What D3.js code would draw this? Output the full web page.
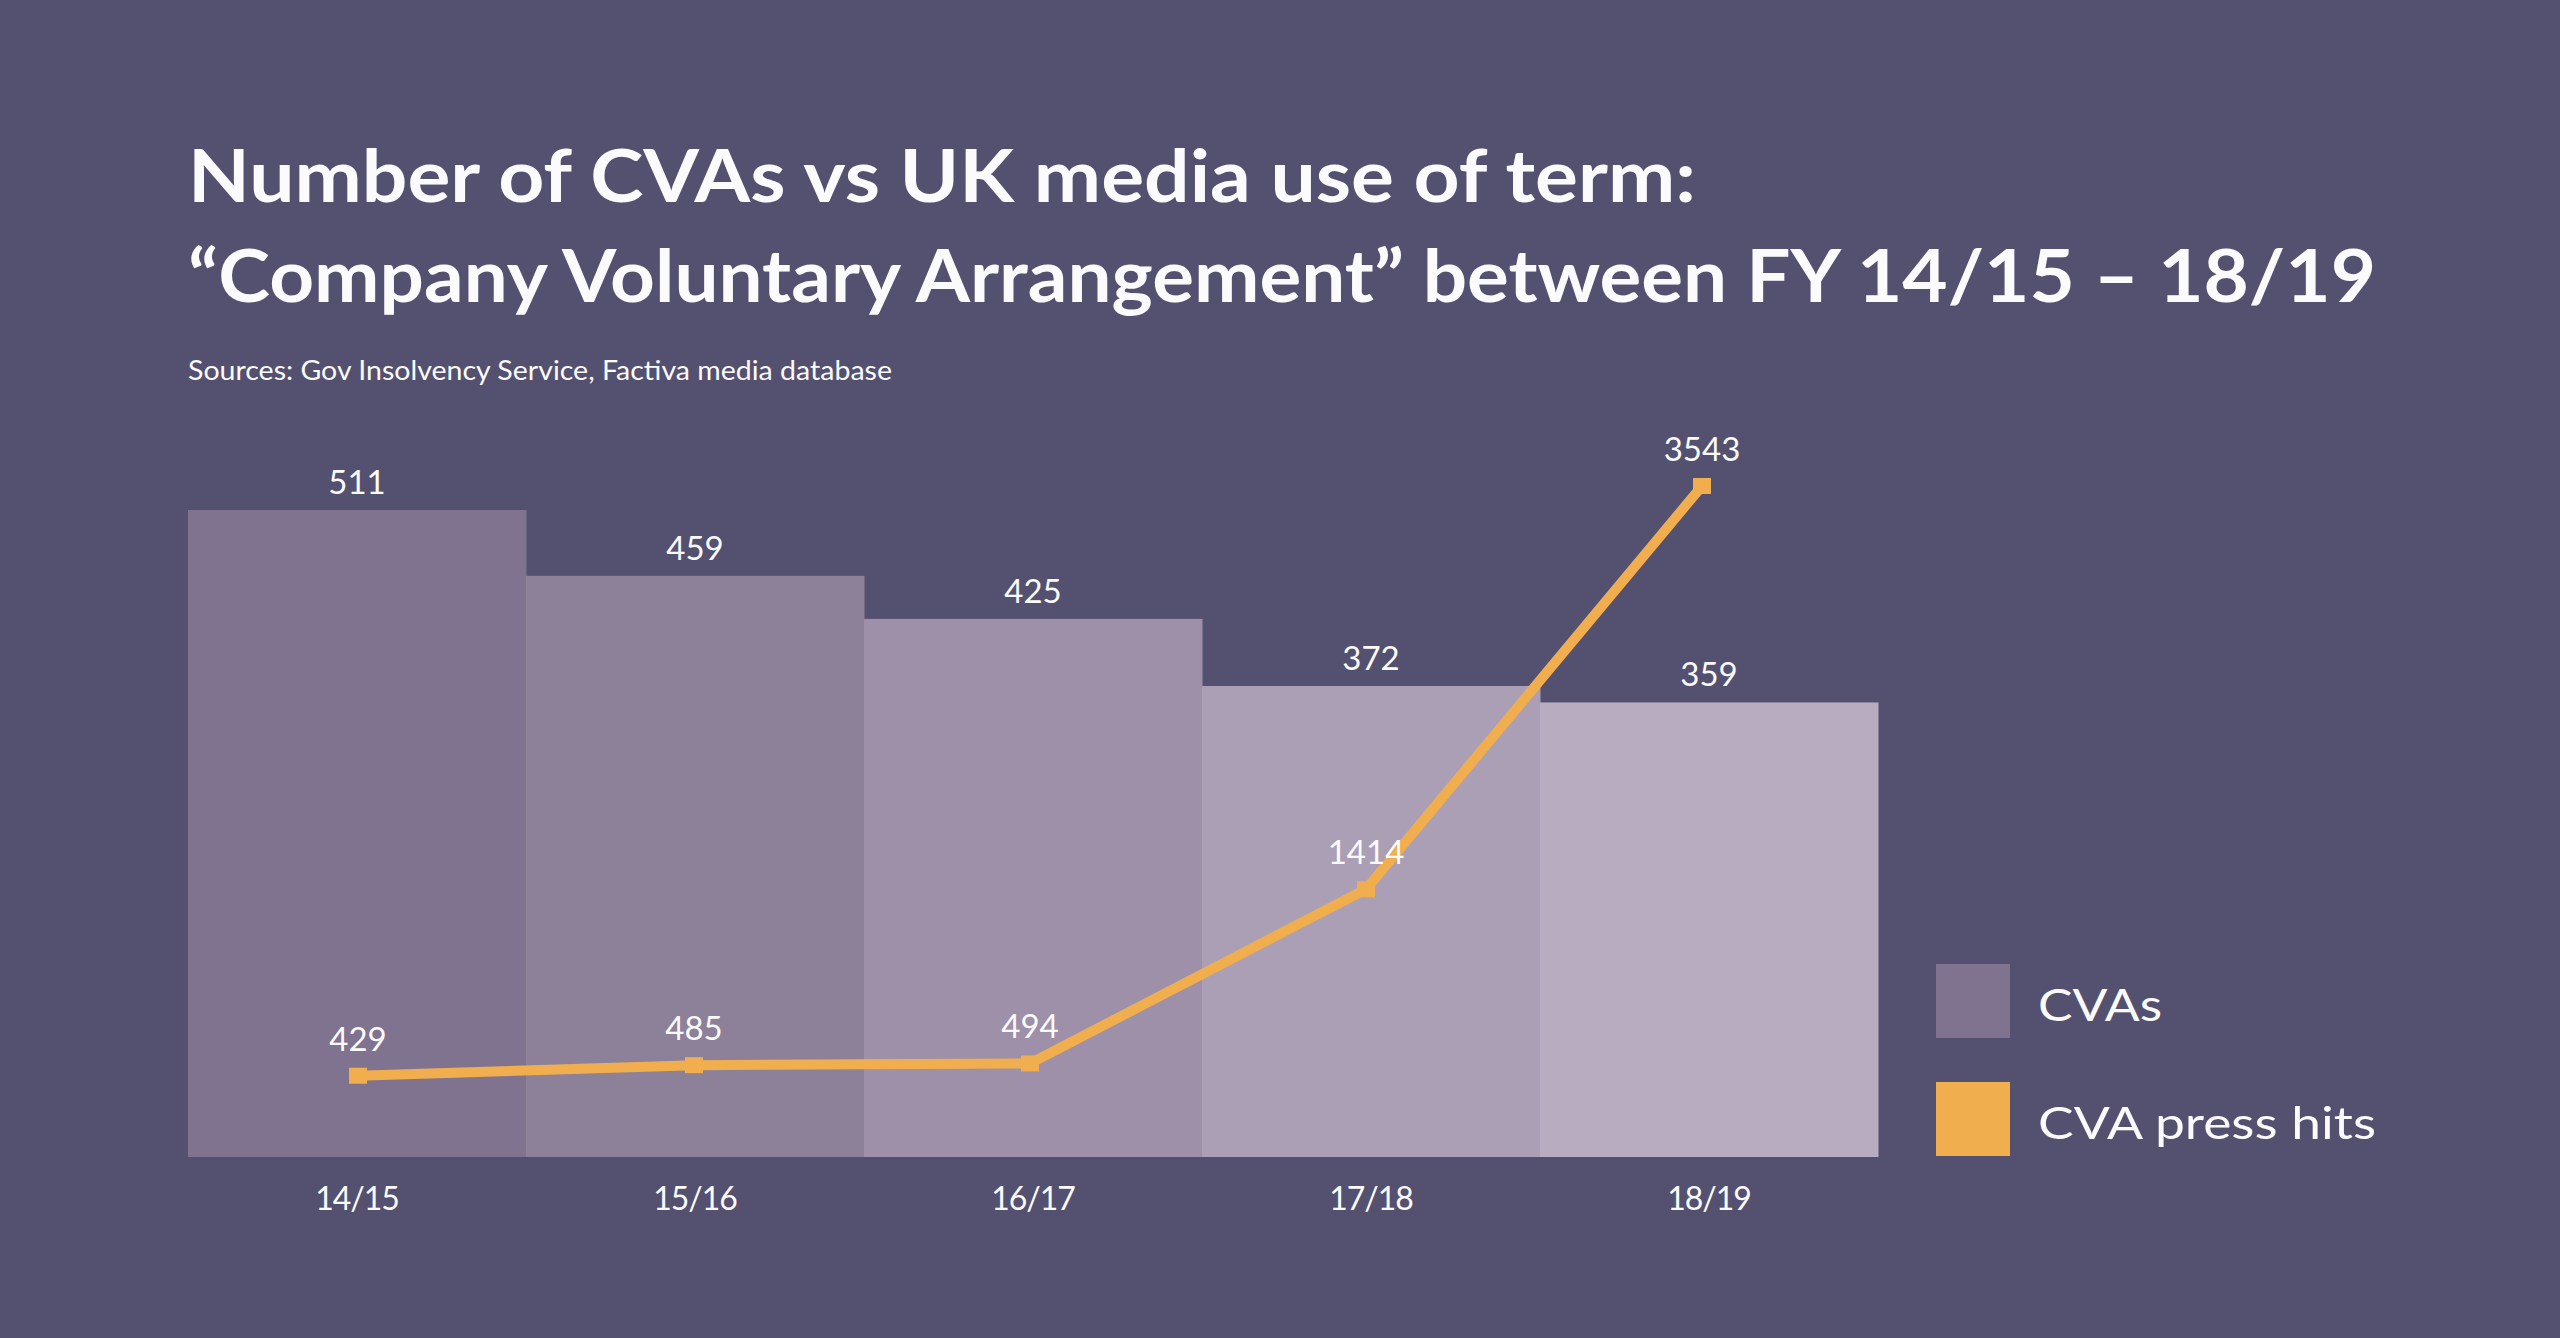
<!DOCTYPE html>
<html>
<head>
<meta charset="utf-8">
<script src="https://cdn.jsdelivr.net/npm/d3@7"></script>
<style>
  html, body { margin: 0; padding: 0; background: #54506f; }
  svg { display: block; }
  text { font-family: Lato, "Open Sans", sans-serif; fill: #fbfbfd; }
</style>
</head>
<body>
<svg id="chart" width="2560" height="1338"></svg>
<script>
// data
const years = ['14/15', '15/16', '16/17', '17/18', '18/19'];
const cvas = [511, 459, 425, 372, 359];
const pressHits = [429, 485, 494, 1414, 3543];
const barColors = ['#807390', '#8d8199', '#9d90a8', '#ab9fb6', '#b8acc0'];
const legendLabels = ['CVAs', 'CVA press hits'];
const titleLines = [
  'Number of CVAs vs UK media use of term:',
  '\u201cCompany Voluntary Arrangement\u201d between FY 14/15 \u2013 18/19'
];
const sourceText = 'Sources: Gov Insolvency Service, Factiva media database';

// widths the original font takes up (Lato is narrower, so stretch to fit)
const titleWidths = [1508, 2188];
const legendWidths = [124, 338];

const svg = d3.select('#chart');
const orange = '#f0ae4e';

const left = 188;
const right = 1878;
const bottom = 1157;

svg.append('rect')
  .attr('width', 2560)
  .attr('height', 1338)
  .attr('fill', '#54506f');

// title + source
svg.selectAll('.title')
  .data(titleLines)
  .enter()
  .append('text')
  .attr('class', 'title')
  .attr('x', left)
  .attr('y', (d, i) => 202 + i * 100)
  .attr('textLength', (d, i) => titleWidths[i])
  .attr('lengthAdjust', 'spacingAndGlyphs')
  .style('font-size', '73px')
  .style('font-weight', 700)
  .text(d => d);

svg.append('text')
  .attr('x', left)
  .attr('y', 380)
  .attr('textLength', 704)
  .attr('lengthAdjust', 'spacingAndGlyphs')
  .style('font-size', '26px')
  .text(sourceText);

const x = d3.scaleBand()
  .domain(years)
  .range([left, right])
  .padding(0);

const y = d3.scaleLinear()
  .domain([0, 511])
  .range([bottom, 510]);

// line points sit a touch left of the bar centres in the original
const xLine = d3.scalePoint()
  .domain(years)
  .range([358, 1702]);

const yLine = d3.scaleLinear()
  .domain([0, 3543])
  .range([bottom, 486]);

const chart = svg.append('g');

chart.selectAll('.bar')
  .data(cvas)
  .enter()
  .append('rect')
  .attr('class', 'bar')
  .attr('x', (d, i) => x(years[i]))
  .attr('y', d => y(d))
  .attr('width', x.bandwidth() + 0.5)
  .attr('height', d => bottom - y(d))
  .attr('fill', (d, i) => barColors[i]);

chart.selectAll('.barLabel')
  .data(cvas)
  .enter()
  .append('text')
  .attr('class', 'barLabel')
  .attr('x', (d, i) => x(years[i]) + x.bandwidth() / 2)
  .attr('y', d => y(d) - 16)
  .attr('text-anchor', 'middle')
  .style('font-size', '33px')
  .text(d => d);

// x axis, labels only
const xAxis = chart.append('g')
  .attr('transform', `translate(0, ${bottom})`)
  .call(d3.axisBottom(x).tickSize(0).tickPadding(30));
xAxis.select('.domain').remove();
xAxis.selectAll('text')
  .attr('fill', null)
  .style('font-size', '32px')
  .style('letter-spacing', '-1px')
  .style('font-family', 'Lato, "Open Sans", sans-serif');

const line = d3.line()
  .x((d, i) => xLine(years[i]))
  .y(d => yLine(d));

chart.append('path')
  .datum(pressHits)
  .attr('d', line)
  .attr('fill', 'none')
  .attr('stroke', orange)
  .attr('stroke-width', 10)
  .attr('stroke-linejoin', 'miter');

chart.selectAll('.marker')
  .data(pressHits)
  .enter()
  .append('rect')
  .attr('class', 'marker')
  .attr('x', (d, i) => xLine(years[i]) - 9)
  .attr('y', d => yLine(d) - 8)
  .attr('width', 18)
  .attr('height', 16)
  .attr('fill', orange);

chart.selectAll('.lineLabel')
  .data(pressHits)
  .enter()
  .append('text')
  .attr('class', 'lineLabel')
  .attr('x', (d, i) => xLine(years[i]))
  .attr('y', d => yLine(d) - 25)
  .attr('text-anchor', 'middle')
  .style('font-size', '33px')
  .text(d => d);

// legend
const legend = svg.append('g')
  .attr('transform', 'translate(1936, 964)');

const legendItems = legend.selectAll('g')
  .data(legendLabels)
  .enter()
  .append('g')
  .attr('transform', (d, i) => `translate(0, ${i * 118})`);

legendItems.append('rect')
  .attr('width', 74)
  .attr('height', 74)
  .attr('fill', (d, i) => i === 0 ? barColors[0] : orange);

legendItems.append('text')
  .attr('x', 102)
  .attr('y', 57)
  .attr('textLength', (d, i) => legendWidths[i])
  .attr('lengthAdjust', 'spacingAndGlyphs')
  .style('font-size', '44px')
  .text(d => d);
</script>
</body>
</html>
